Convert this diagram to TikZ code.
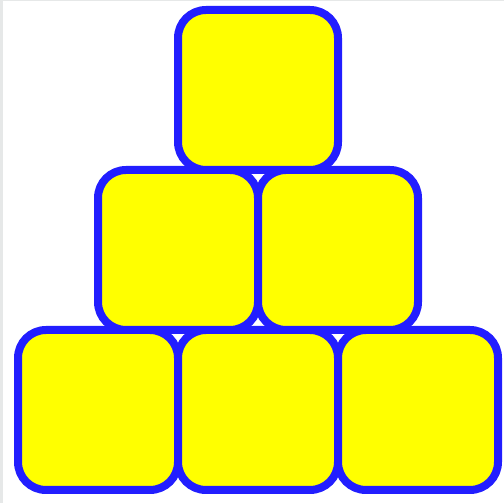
\documentclass[tikz,border=0pt]{standalone}
\usetikzlibrary{positioning}
\definecolor{boxblue}{RGB}{34,30,255}
\definecolor{boxyellow}{RGB}{255,255,0}
\definecolor{edgegray}{RGB}{230,232,232}
\tikzset{
  block/.style={draw=boxblue, fill=boxyellow, line width=8pt, rounded corners=28pt,
    minimum width=160pt, minimum height=160pt, inner sep=0pt}
}
\begin{document}
\begin{tikzpicture}[x=1pt, y=1pt]
      \useasboundingbox (0,0) rectangle (504,503);
      \fill [edgegray] (0,0) rectangle (3,503);
      \fill [edgegray] (0,501.5) rectangle (504,503);

      % bottom row
      \node [block] (b1) at (98,93) {};
      \node [block] (b2) at (258,93) {};
      \node [block] (b3) at (418,93) {};
      % middle row
      \node [block] (m1) at (178,253) {};
      \node [block] (m2) at (338,253) {};
      % top
      \node [block] (t1) at (258,413) {};
    \end{tikzpicture}
\end{document}
